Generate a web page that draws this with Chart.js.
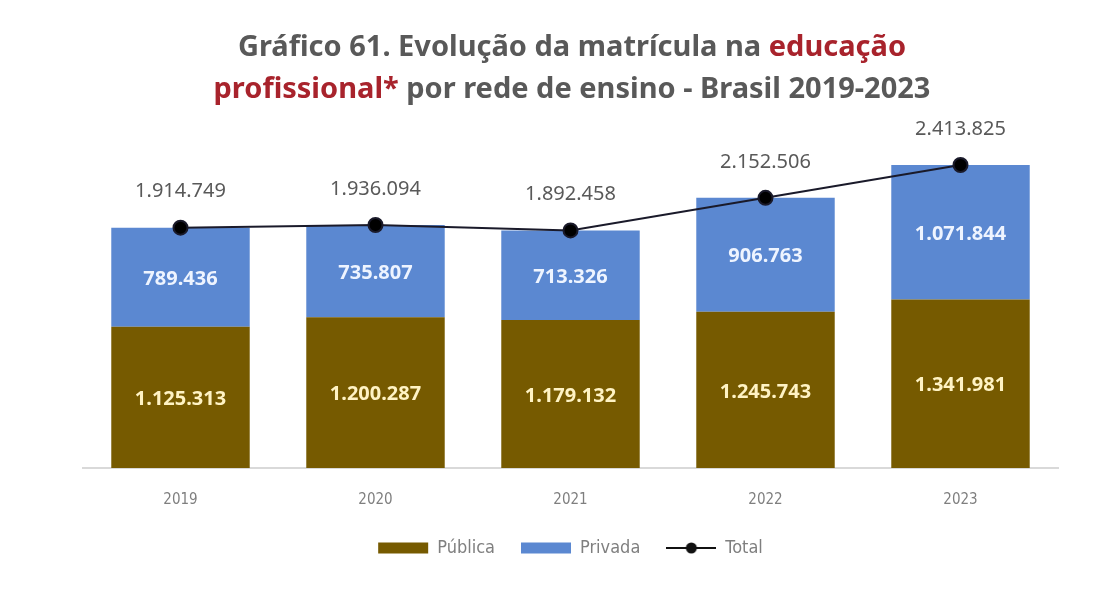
<!DOCTYPE html>
<html>
<head>
<meta charset="utf-8">
<script src="https://cdn.jsdelivr.net/npm/chart.js@4"></script>
<style>
  html, body { margin: 0; padding: 0; background: #ffffff; }
  #chart { display: block; }
</style>
</head>
<body>
<canvas id="chart" width="1100" height="600"></canvas>
<script>
// data
const years = ["2019", "2020", "2021", "2022", "2023"];
const publica = [1125313, 1200287, 1179132, 1245743, 1341981];
const privada = [789436, 735807, 713326, 906763, 1071844];
const total = [1914749, 1936094, 1892458, 2152506, 2413825];

const titleLine1 = [
  { text: "Gráfico 61. Evolução da matrícula na ", color: "#595959" },
  { text: "educação", color: "#a8232c" },
];
const titleLine2 = [
  { text: "profissional*", color: "#a8232c" },
  { text: " por rede de ensino - Brasil 2019-2023", color: "#595959" },
];

const BROWN = "#765a00";
const BLUE = "#5b88d1";

function fmt(n) {
  return String(n).replace(/\B(?=(\d{3})+(?!\d))/g, ".");
}

// icon for the "Total" legend entry (line with dot)
const lineIcon = document.createElement("canvas");
lineIcon.width = 50;
lineIcon.height = 14;
(function () {
  const c = lineIcon.getContext("2d");
  c.strokeStyle = "#111";
  c.lineWidth = 2;
  c.beginPath();
  c.moveTo(0, 7);
  c.lineTo(50, 7);
  c.stroke();
  c.fillStyle = "#111";
  c.beginPath();
  c.arc(25, 7, 5.5, 0, Math.PI * 2);
  c.fill();
})();

// title with two colours
const titlePlugin = {
  id: "twoColourTitle",
  afterDraw(chart) {
    const ctx = chart.ctx;
    ctx.save();
    ctx.font = "bold 29px 'Noto Sans'";
    ctx.textBaseline = "middle";
    ctx.textAlign = "left";
    const lines = [
      { parts: titleLine1, y: 48 },
      { parts: titleLine2, y: 90 },
    ];
    lines.forEach(function (line) {
      let w = 0;
      line.parts.forEach(function (p) { w += ctx.measureText(p.text).width; });
      let x = 572 - w / 2;
      line.parts.forEach(function (p) {
        ctx.fillStyle = p.color;
        ctx.fillText(p.text, x, line.y);
        x += ctx.measureText(p.text).width;
      });
    });
    ctx.restore();
  },
};

// value labels
const labelPlugin = {
  id: "valueLabels",
  afterDatasetsDraw(chart) {
    const ctx = chart.ctx;
    ctx.save();
    ctx.textAlign = "center";
    ctx.textBaseline = "middle";
    // segment labels
    [0, 1].forEach(function (di) {
      const meta = chart.getDatasetMeta(di);
      const ds = chart.data.datasets[di];
      ctx.font = "bold 20px 'Noto Sans'";
      ctx.fillStyle = di === 0 ? "#fff3c4" : "#eef4ff";
      meta.data.forEach(function (bar, i) {
        const mid = (bar.y + bar.base) / 2;
        ctx.fillText(fmt(ds.data[i]), bar.x, mid + 2);
      });
    });
    // totals
    const lm = chart.getDatasetMeta(2);
    ctx.font = "20px 'Noto Sans'";
    ctx.fillStyle = "#595959";
    lm.data.forEach(function (pt, i) {
      ctx.fillText(fmt(total[i]), pt.x, pt.y - 36);
    });
    ctx.restore();
  },
};

const ctx = document.getElementById("chart").getContext("2d");
new Chart(ctx, {
  data: {
    labels: years,
    datasets: [
      {
        type: "bar",
        label: "Pública",
        data: publica,
        backgroundColor: BROWN,
        stack: "s",
        order: 2,
        barPercentage: 0.71,
        categoryPercentage: 1,
      },
      {
        type: "bar",
        label: "Privada",
        data: privada,
        backgroundColor: BLUE,
        stack: "s",
        order: 2,
        barPercentage: 0.71,
        categoryPercentage: 1,
      },
      {
        type: "line",
        label: "Total",
        data: total,
        borderColor: "#1a1a2a",
        backgroundColor: "#000000",
        borderWidth: 2,
        pointRadius: 7,
        pointHoverRadius: 7,
        tension: 0,
        order: 1,
      },
    ],
  },
  options: {
    responsive: false,
    animation: false,
    layout: { padding: { top: 104, left: 83, right: 42, bottom: 33 } },
    scales: {
      x: {
        stacked: true,
        grid: { display: false },
        border: { display: true, color: "#d9d9d9", width: 2 },
        ticks: {
          color: "#7f7f7f",
          padding: 15,
          font: { family: "'Liberation Sans Narrow', 'DejaVu Sans Condensed'", size: 15 },
        },
        afterFit(scale) {
          // tighten gap between tick labels and legend
          scale.height -= 11;
        },
      },
      y: {
        stacked: true,
        display: false,
        min: 0,
        max: 2900000,
      },
    },
    plugins: {
      tooltip: { enabled: false },
      title: { display: false },
      legend: {
        position: "bottom",
        labels: {
          usePointStyle: true,
          pointStyleWidth: 50,
          boxHeight: 11,
          padding: 26,
          color: "#7f7f7f",
          font: { family: "'Liberation Sans Narrow', 'DejaVu Sans Condensed'", size: 18 },
          generateLabels(chart) {
            return chart.data.datasets.map(function (ds, i) {
              return {
                text: ds.label,
                fillStyle: ds.backgroundColor,
                strokeStyle: ds.backgroundColor,
                lineWidth: 0,
                pointStyle: i === 2 ? lineIcon : "rect",
                datasetIndex: i,
                fontColor: "#7f7f7f",
              };
            });
          },
        },
      },
    },
  },
  plugins: [titlePlugin, labelPlugin],
});
</script>
</body>
</html>
